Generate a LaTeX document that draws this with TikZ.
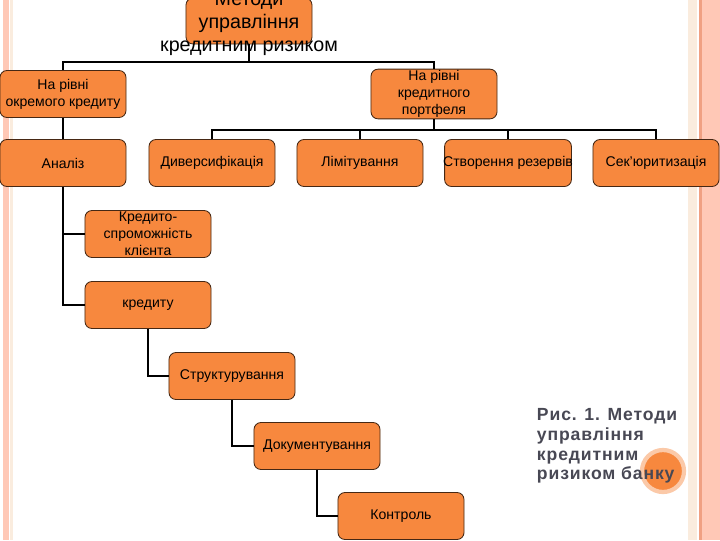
\documentclass[tikz,border=0pt]{standalone}
\usepackage{fontspec}
\setmainfont{Liberation Sans}
\newfontfamily\capfont[LetterSpace=5]{Liberation Sans}
\definecolor{boxfill}{RGB}{247,136,62}
\definecolor{boxline}{RGB}{70,40,20}
\definecolor{edgepink}{RGB}{255,200,182}
\definecolor{edgedark}{RGB}{240,160,130}
\definecolor{edgebeige}{RGB}{250,236,222}
\definecolor{capgray}{RGB}{72,72,84}
\tikzset{
    box/.style={rectangle, rounded corners=5pt, draw=boxline, line width=0.6pt, fill=boxfill,
        minimum width=3.15cm, minimum height=1.175cm, align=center, inner sep=1pt,
        font=\fontsize{10}{12}\selectfont},
    link/.style={line width=1.8pt}
}
\begin{document}
\begin{tikzpicture}[x=0.025cm, y=-0.025cm]

        \useasboundingbox (0, 0) rectangle (720, 540);
        \fill[white] (0, 0) rectangle (720, 540);

        % side stripes
        \fill[edgepink] (3, 0) rectangle (9, 540);
        \fill[edgebeige] (10, 0) rectangle (13, 540);
        \fill[edgebeige] (688, 0) rectangle (697, 540);
        \fill[edgedark] (699, 0) rectangle (702, 540);
        \fill[edgepink] (702, 0) rectangle (720, 540);

        \node (top-box) at (249, 21) [box, minimum width=3.15cm, minimum height=1.15cm] {};
        \node (top) at (249, 24) [align=center, font=\fontsize{14}{16.5}\selectfont] {Методи\\управління\\кредитним ризиком};

        \node (single) at (63, 94) [box] {На рівні\\окремого кредиту};
        \node (portfolio) at (434, 94) [box] {На рівні\\кредитного\\портфеля};

        \node (analiz) at (63, 163) [box] {Аналіз};
        \node (divers) at (212, 163) [box] {Диверсифікація};
        \node (limit) at (360, 163) [box] {Лімітування};
        \node (reserve) at (508, 163) [box] {\makebox[3.1cm]{Створення резервів}};
        \node (secur) at (656, 163) [box] {Сек'юритизація};

        \node (solvency) at (148, 234) [box] {Кредито-\\спроможність\\клієнта};
        \node (credit) at (148, 305) [box] {кредиту};
        \node (struct) at (232, 376) [box] {Структурування};
        \node (docs) at (317, 446) [box] {Документування};
        \node (control) at (401, 516) [box] {Контроль};

        \coordinate (bus-1) at (249, 62);
        \coordinate (bus-2) at (434, 130);

        \draw[link] (top-box) -- (bus-1);
        \draw[link] (bus-1) -| (single);
        \draw[link] (bus-1) -| (portfolio);

        \draw[link] (portfolio) -- (bus-2);
        \draw[link] (bus-2) -| (divers);
        \draw[link] (bus-2) -| (limit);
        \draw[link] (bus-2) -| (reserve);
        \draw[link] (bus-2) -| (secur);

        \draw[link] (single) -- (analiz);
        \draw[link] (analiz) |- (solvency);
        \draw[link] (analiz) |- (credit);
        \draw[link] (credit) |- (struct);
        \draw[link] (struct) |- (docs);
        \draw[link] (docs) |- (control);

        \node (dot) at (663, 471) [circle, fill=boxfill, draw=boxfill!45, line width=3pt, minimum size=1.05cm] {};
        \node (caption) at (532, 403) [anchor=north west, align=left, text=capgray,
            font=\capfont\bfseries\fontsize{12.5}{14.2}\selectfont] {Рис. 1. Методи\\управління\\кредитним\\ризиком банку};

    \end{tikzpicture}
\end{document}
